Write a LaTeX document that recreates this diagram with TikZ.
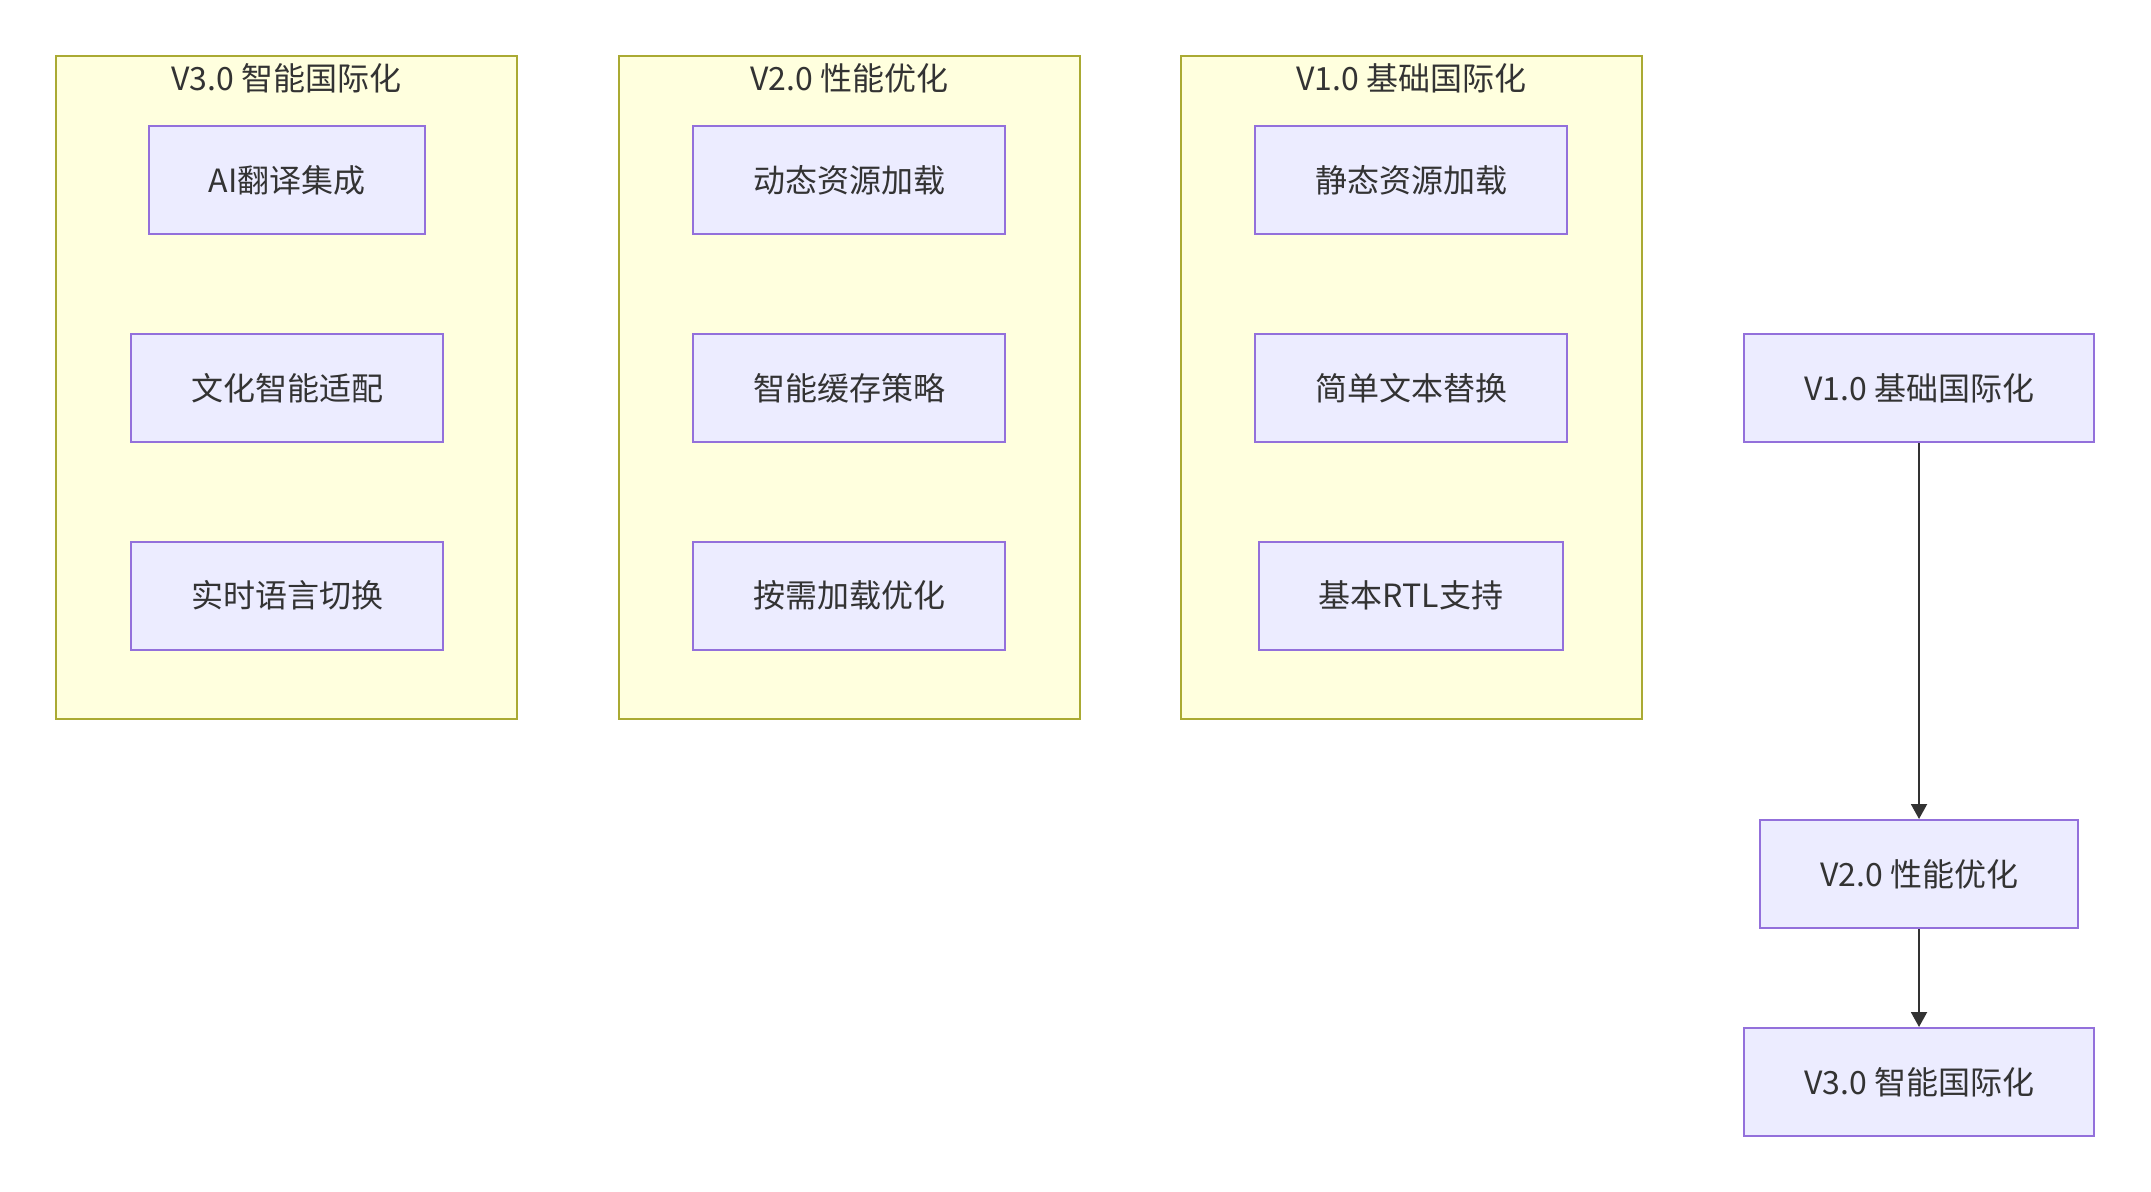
\documentclass[tikz,border=0pt]{standalone}
\usepackage{fontspec}
\setmainfont{Noto Sans CJK SC}
\usetikzlibrary{arrows.meta}
\definecolor{stagefill}{HTML}{FFFFDE}
\definecolor{stageline}{HTML}{AAAA33}
\definecolor{itemfill}{HTML}{ECECFF}
\definecolor{itemline}{HTML}{9370DB}
\definecolor{ink}{HTML}{333333}
\tikzset{
  stage/.style={draw=stageline, fill=stagefill, line width=1pt, minimum width=230.5pt, minimum height=331.5pt, inner sep=0pt},
  stagetitle/.style={text=ink, font=\fontsize{16}{19}\selectfont, inner sep=0pt},
  item/.style={draw=itemline, fill=itemfill, line width=1pt, text=ink, minimum height=54pt, inner xsep=30pt, font=\fontsize{16}{19}\selectfont},
  flow/.style={ink, line width=1pt, -{Triangle[length=7.5pt, width=8pt]}}
}
\begin{document}
\begin{tikzpicture}[x=0.5pt, y=-0.5pt]
  \useasboundingbox (0,0) rectangle (2151,1192);
  % V3.0 group
  \node[stage] (g3) at (286.5,387.5) {};
  \node[stagetitle] (g3t) at (286.5,78) {V3.0 智能国际化};
  \node[item] (ai) at (287,180) {AI翻译集成};
  \node[item] (culture) at (287,388) {文化智能适配};
  \node[item] (live) at (287,595.5) {实时语言切换};
  % V2.0 group
  \node[stage] (g2) at (849.5,387.5) {};
  \node[stagetitle] (g2t) at (849.5,78) {V2.0 性能优化};
  \node[item] (dynload) at (849,180) {动态资源加载};
  \node[item] (cache) at (849,388) {智能缓存策略};
  \node[item] (lazy) at (849,595.5) {按需加载优化};
  % V1.0 group
  \node[stage] (g1) at (1411,387.5) {};
  \node[stagetitle] (g1t) at (1411,78) {V1.0 基础国际化};
  \node[item] (staticload) at (1411,180) {静态资源加载};
  \node[item] (replace) at (1411,388) {简单文本替换};
  \node[item] (rtl) at (1411,595.5) {基本RTL支持};
  % roadmap
  \node[item] (v1) at (1919,388) {V1.0 基础国际化};
  \node[item] (v2) at (1919,874) {V2.0 性能优化};
  \node[item] (v3) at (1919,1082) {V3.0 智能国际化};
  \draw[flow] (v1) -- (v2);
  \draw[flow] (v2) -- (v3);
\end{tikzpicture}
\end{document}
